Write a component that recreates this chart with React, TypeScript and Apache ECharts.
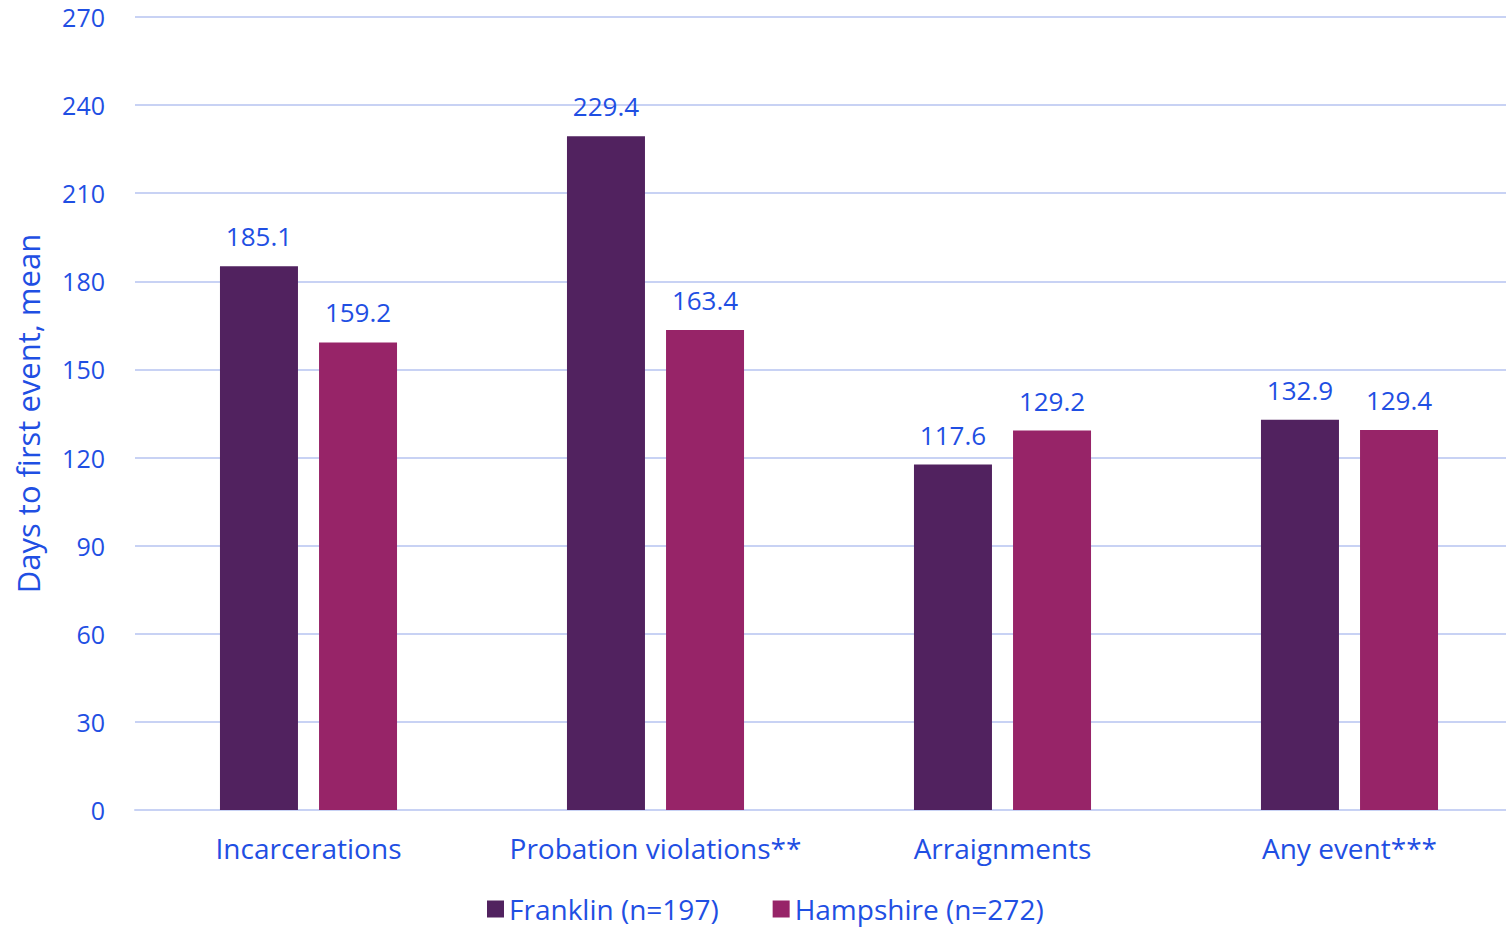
import React, { useEffect, useRef } from "react";
import * as echarts from "echarts";

const categories = ["Incarcerations", "Probation violations**", "Arraignments", "Any event***"];
const franklin = [185.1, 229.4, 117.6, 132.9];
const hampshire = [159.2, 163.4, 129.2, 129.4];
const seriesNames = ["Franklin (n=197)", "Hampshire (n=272)"];
const yTicks = { min: 0, max: 270, interval: 30 };

const TEXT = "#1f4fe3";
const FONT = "'Open Sans', 'Noto Sans', sans-serif";

export default function App() {
  const ref = useRef<HTMLDivElement>(null);
  useEffect(() => {
    if (!ref.current) return;
    const chart = echarts.init(ref.current, undefined, { renderer: "svg" });
    const label = {
      show: true,
      position: "top" as const,
      distance: 17,
      color: TEXT,
      fontSize: 26,
      fontFamily: FONT,
      formatter: (p: any) => p.value.toFixed(1),
    };
    chart.setOption({
      animation: false,
      backgroundColor: "#ffffff",
      textStyle: { fontFamily: FONT },
      // plot area runs a little past the right edge of the canvas
      grid: {
        left: 135,
        width: 1388,
        top: 17,
        bottom: 120,
        containLabel: false,
        outerBoundsMode: "none",
      },
      legend: {
        bottom: 2,
        left: 482,
        itemWidth: 17,
        itemHeight: 17,
        itemGap: 54,
        icon: "rect",
        textStyle: { color: TEXT, fontSize: 28, fontFamily: FONT },
        data: seriesNames,
      },
      xAxis: {
        type: "category",
        data: categories,
        axisLine: { show: true, lineStyle: { color: "#c8d2f4", width: 2 } },
        axisTick: { show: false },
        axisLabel: { color: TEXT, fontSize: 28, fontFamily: FONT, margin: 24, interval: 0 },
      },
      yAxis: {
        type: "value",
        min: yTicks.min,
        max: yTicks.max,
        interval: yTicks.interval,
        name: "Days to first event, mean",
        nameLocation: "middle",
        nameGap: 92,
        nameTextStyle: { color: TEXT, fontSize: 31, fontFamily: FONT },
        axisLine: { show: false },
        axisTick: { show: false },
        axisLabel: { color: TEXT, fontSize: 25, fontFamily: FONT, margin: 30 },
        splitLine: { lineStyle: { color: "#c8d2f4", width: 2 } },
      },
      series: [
        {
          name: seriesNames[0],
          type: "bar",
          data: franklin,
          barWidth: 78,
          barGap: "27%",
          itemStyle: { color: "#51225f" },
          label,
        },
        {
          name: seriesNames[1],
          type: "bar",
          data: hampshire,
          barWidth: 78,
          itemStyle: { color: "#972468" },
          label,
        },
      ],
    });
    return () => chart.dispose();
  }, []);
  return (
    <div
      ref={ref}
      style={{ position: "fixed", left: 0, top: 0, width: 1506, height: 930, background: "#fff" }}
    />
  );
}
